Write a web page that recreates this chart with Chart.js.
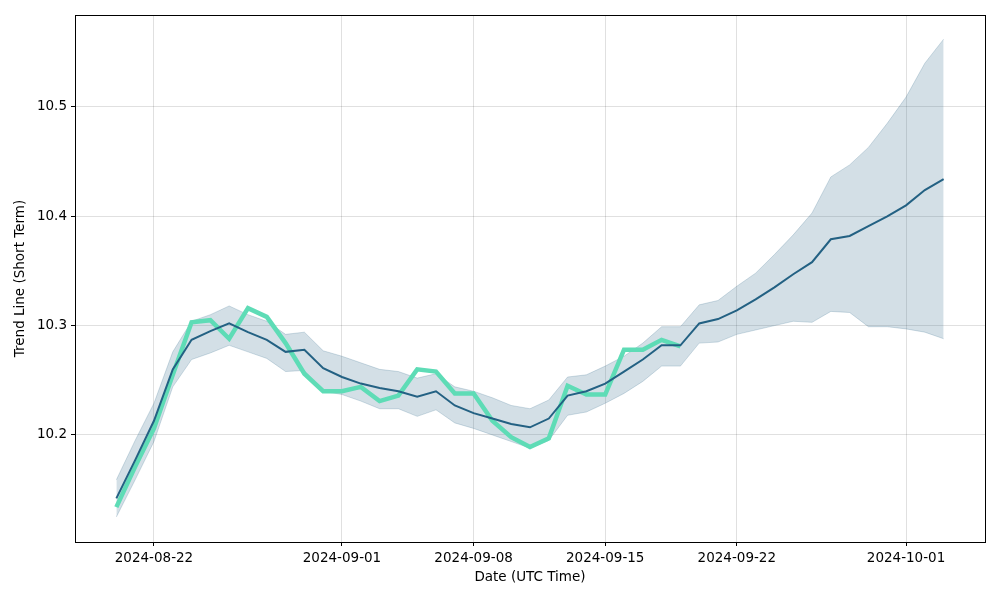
<!DOCTYPE html>
<html>
<head>
<meta charset="utf-8">
<script src="https://cdn.jsdelivr.net/npm/chart.js@4/dist/chart.umd.min.js"></script>
<style>
  html, body { margin: 0; padding: 0; background: #fff; }
  #wrap { width: 1000px; height: 600px; }
</style>
</head>
<body>
<div id="wrap"><canvas id="trendChart" width="1000" height="600"></canvas></div>
<script>
// Daily dates, 2024-08-20 .. 2024-10-03
const startDate = '2024-08-20';
const dayCount = 45;

// Trend line (short term) and its band
const trendValues = [
  10.142, 10.177, 10.213, 10.260, 10.287, 10.295, 10.302, 10.294, 10.287, 10.276,
  10.278, 10.261, 10.253, 10.247, 10.243, 10.240, 10.235, 10.240, 10.227, 10.220,
  10.215, 10.210, 10.207, 10.215, 10.236, 10.240, 10.247, 10.258, 10.269, 10.282,
  10.282, 10.302, 10.306, 10.314, 10.324, 10.335, 10.347, 10.358, 10.379, 10.382,
  10.391, 10.400, 10.410, 10.424, 10.434
];
const upperValues = [
  10.159, 10.195, 10.229, 10.276, 10.304, 10.310, 10.318, 10.310, 10.304, 10.292,
  10.294, 10.277, 10.272, 10.266, 10.260, 10.258, 10.252, 10.256, 10.244, 10.240,
  10.234, 10.227, 10.224, 10.232, 10.253, 10.255, 10.263, 10.272, 10.284, 10.299,
  10.299, 10.319, 10.323, 10.336, 10.348, 10.365, 10.383, 10.403, 10.436, 10.447,
  10.463, 10.485, 10.509, 10.540, 10.562
];
const lowerValues = [
  10.125, 10.159, 10.194, 10.244, 10.269, 10.275, 10.282, 10.276, 10.270, 10.258,
  10.259, 10.240, 10.237, 10.231, 10.224, 10.224, 10.217, 10.223, 10.211, 10.206,
  10.200, 10.194, 10.188, 10.195, 10.218, 10.221, 10.229, 10.238, 10.249, 10.263,
  10.263, 10.284, 10.285, 10.292, 10.296, 10.300, 10.304, 10.303, 10.313, 10.312,
  10.299, 10.299, 10.297, 10.294, 10.288
];
// Actual values (first 31 days only)
const actualValues = [
  10.134, 10.171, 10.206, 10.255, 10.303, 10.305, 10.288, 10.316, 10.308, 10.284,
  10.256, 10.240, 10.240, 10.244, 10.231, 10.236, 10.260, 10.258, 10.238, 10.238,
  10.213, 10.198, 10.189, 10.197, 10.245, 10.237, 10.237, 10.278, 10.278, 10.287,
  10.281
];

const xTickDates = ['2024-08-22', '2024-09-01', '2024-09-08', '2024-09-15', '2024-09-22', '2024-10-01'];
const yTicks = [10.2, 10.3, 10.4, 10.5];

const DAY = 86400000;
const t0 = Date.parse(startDate + 'T00:00:00Z');
const dayIndex = s => Math.round((Date.parse(s + 'T00:00:00Z') - t0) / DAY);
const dayLabel = d => new Date(t0 + d * DAY).toISOString().slice(0, 10);

const toPoints = arr => arr.map((v, i) => ({ x: i, y: v }));

const FONT = { family: 'DejaVu Sans', size: 13.5 };
const TREND = '#236183';
const BAND = 'rgba(35, 97, 131, 0.2)';

// black box around the plot, like matplotlib spines
const frame = {
  id: 'frame',
  afterDatasetsDraw(chart) {
    const { ctx, chartArea: a } = chart;
    ctx.save();
    ctx.strokeStyle = '#000';
    ctx.lineWidth = 1;
    ctx.strokeRect(Math.round(a.left) + 0.5, Math.round(a.top) + 0.5,
      Math.round(a.right - a.left), Math.round(a.bottom - a.top));
    ctx.restore();
  }
};

new Chart(document.getElementById('trendChart'), {
  type: 'line',
  data: {
    datasets: [
      {
        label: 'Trend',
        data: toPoints(trendValues),
        borderColor: TREND,
        borderWidth: 2,
        pointRadius: 0,
        fill: false,
        order: 0
      },
      {
        label: 'Actual',
        data: toPoints(actualValues),
        borderColor: '#5edcb6',
        borderWidth: 4.5,
        pointRadius: 0,
        fill: false,
        order: 1
      },
      {
        label: 'Upper',
        data: toPoints(upperValues),
        borderColor: BAND,
        borderWidth: 1,
        backgroundColor: BAND,
        pointRadius: 0,
        fill: '+1',
        order: 2
      },
      {
        label: 'Lower',
        data: toPoints(lowerValues),
        borderColor: BAND,
        borderWidth: 1,
        pointRadius: 0,
        fill: false,
        order: 3
      }
    ]
  },
  options: {
    responsive: false,
    animation: false,
    layout: { padding: { left: 0, top: 15, right: 15, bottom: 0 } },
    plugins: {
      legend: { display: false },
      tooltip: { enabled: false }
    },
    scales: {
      x: {
        type: 'linear',
        min: -2.2,
        max: dayCount + 1.2,
        afterBuildTicks: scale => {
          scale.ticks = xTickDates.map(d => ({ value: dayIndex(d) }));
        },
        afterFit: scale => { scale.height = 58; },
        ticks: {
          callback: v => dayLabel(v),
          color: '#000',
          font: FONT,
          padding: 4,
          maxRotation: 0,
          autoSkip: false
        },
        grid: {
          color: 'rgba(0,0,0,0.12)',
          tickColor: '#000',
          tickLength: 4
        },
        border: { display: false },
        title: {
          display: true,
          text: 'Date (UTC Time)',
          color: '#000',
          font: FONT,
          padding: { top: 2, bottom: 14 }
        }
      },
      y: {
        min: 10.1021,
        max: 10.5841,
        afterBuildTicks: scale => {
          scale.ticks = yTicks.map(v => ({ value: v }));
        },
        afterFit: scale => { scale.width = 75; },
        ticks: {
          callback: v => v.toFixed(1),
          color: '#000',
          font: FONT,
          padding: 4
        },
        grid: {
          color: 'rgba(0,0,0,0.12)',
          tickColor: '#000',
          tickLength: 4
        },
        border: { display: false },
        title: {
          display: true,
          text: 'Trend Line (Short Term)',
          color: '#000',
          font: FONT,
          padding: { top: 12, bottom: 4 }
        }
      }
    }
  },
  plugins: [frame]
});
</script>
</body>
</html>
